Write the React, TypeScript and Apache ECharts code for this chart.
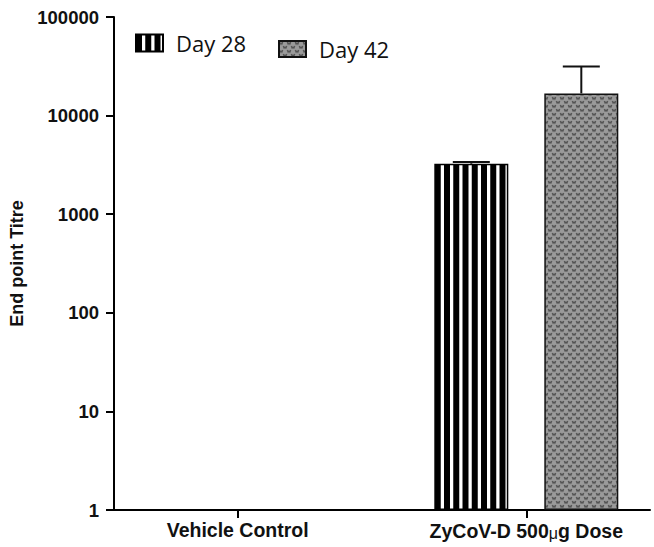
import React, { useEffect, useRef } from "react";
import * as echarts from "echarts";

// ---- data ----
const categories = ["Vehicle Control", "ZyCoV-D 500μg Dose"];
const seriesNames = ["Day 28", "Day 42"];
const day28Mean = [null, 3250];
const day28Upper = [null, 3380];
const day42Mean = [null, 16800];
const day42Upper = [null, 31500];
const yTickLabels = ["1", "10", "100", "1000", "10000", "100000"];

// ---- layout ----
const SLOT_COUNT = 14;
const CATEGORY_SLOTS = [3, 10];
const BAR_W = 74;
const BAR_GAP_PX = 36;

function stripeCanvas(): HTMLCanvasElement {
  const c = document.createElement("canvas");
  c.width = 37;
  c.height = 4;
  const ctx = c.getContext("2d")!;
  ctx.fillStyle = "#ffffff";
  ctx.fillRect(0, 0, 37, 4);
  ctx.fillStyle = "#000000";
  for (let k = 0; k < 4; k++) ctx.fillRect(k * 9.25, 0, 6, 4);
  return c;
}

function textureCanvas(): HTMLCanvasElement {
  const c = document.createElement("canvas");
  c.width = 8;
  c.height = 8;
  const ctx = c.getContext("2d")!;
  ctx.fillStyle = "#9a9a9a";
  ctx.fillRect(0, 0, 8, 8);
  ctx.strokeStyle = "#545454";
  ctx.lineWidth = 1.1;
  const mark = (cx: number, cy: number) => {
    ctx.beginPath();
    ctx.moveTo(cx - 1.8, cy - 1);
    ctx.lineTo(cx - 0.9, cy + 1.2);
    ctx.lineTo(cx, cy - 0.3);
    ctx.lineTo(cx + 0.9, cy + 1.2);
    ctx.lineTo(cx + 1.8, cy - 1);
    ctx.stroke();
  };
  mark(2, 2);
  mark(6, 6);
  mark(-2, 6);
  mark(10, 2);
  return c;
}

export default function App() {
  const ref = useRef<HTMLDivElement>(null);
  useEffect(() => {
    document.body.style.margin = "0";
    if (!ref.current) return;
    const chart = echarts.init(ref.current, undefined, { renderer: "svg" });

    const slots: string[] = [];
    for (let i = 0; i < SLOT_COUNT; i++) {
      const ci = CATEGORY_SLOTS.indexOf(i);
      slots.push(ci >= 0 ? categories[ci] : "gap" + i);
    }
    const toSlots = (arr: (number | null)[]) => {
      const out: any[] = new Array(SLOT_COUNT).fill("-");
      arr.forEach((v, ci) => {
        if (v != null) out[CATEGORY_SLOTS[ci]] = v;
      });
      return out;
    };
    const isCat = (idx: number) => CATEGORY_SLOTS.indexOf(idx) >= 0;

    const errData: any[] = [];
    [
      [day28Mean, day28Upper],
      [day42Mean, day42Upper],
    ].forEach(([m, u], si) => {
      m.forEach((v, ci) => {
        if (v != null && u[ci] != null) errData.push([CATEGORY_SLOTS[ci], v, u[ci], si]);
      });
    });

    const stripe = { image: stripeCanvas(), repeat: "repeat", imageWidth: 37, imageHeight: 4, x: 432 } as any;
    const texture = { image: textureCanvas(), repeat: "repeat", imageWidth: 8, imageHeight: 8 } as any;

    const font = "'Liberation Sans', Arial, sans-serif";
    const legendText = { fontSize: 22, color: "#111", fontFamily: "'Open Sans', sans-serif", padding: [0, 0, 0, 8] };

    chart.setOption({
      animation: false,
      grid: { left: 106, right: 4, top: 17, bottom: 37, containLabel: false },
      legend: [
        {
          data: [seriesNames[0]],
          left: 130,
          top: 27,
          itemWidth: 27,
          itemHeight: 17,
          icon: "rect",
          selectedMode: false,
          textStyle: legendText,
        },
        {
          data: [seriesNames[1]],
          left: 273,
          top: 33,
          itemWidth: 27,
          itemHeight: 16,
          icon: "rect",
          selectedMode: false,
          textStyle: legendText,
        },
      ],
      xAxis: {
        type: "category",
        data: slots,
        boundaryGap: false,
        axisLine: { lineStyle: { color: "#000", width: 2 } },
        axisTick: { interval: (i: number) => isCat(i), length: 8, lineStyle: { width: 2, color: "#000" } },
        axisLabel: {
          interval: (i: number) => isCat(i),
          formatter: (v: string) => (v.startsWith("gap") ? "" : v.replace("μ", "{mu|μ}")),
          fontSize: 19.5,
          fontWeight: "bold",
          fontFamily: font,
          color: "#111",
          margin: 10,
          rich: {
            mu: { fontSize: 16, fontWeight: "normal", fontFamily: font, color: "#111", padding: [5, 0, 0, 0] },
          },
        },
        splitLine: { show: false },
      },
      yAxis: {
        type: "log",
        logBase: 10,
        min: 1,
        max: 100000,
        name: "End point Titre",
        nameLocation: "middle",
        nameGap: 88,
        nameTextStyle: { fontSize: 18, fontWeight: "bold", fontFamily: font, color: "#111" },
        axisLine: { show: true, lineStyle: { color: "#000", width: 2 } },
        axisTick: { show: true, length: 8, lineStyle: { width: 2, color: "#000" } },
        axisLabel: {
          fontSize: 18.5,
          fontWeight: "bold",
          fontFamily: font,
          color: "#111",
          margin: 15,
          formatter: (v: number) => {
            const idx = Math.round(Math.log10(v));
            return yTickLabels[idx] ?? String(Math.round(v));
          },
        },
        splitLine: { show: false },
      },
      series: [
        {
          name: seriesNames[0],
          type: "bar",
          data: toSlots(day28Mean),
          barWidth: BAR_W,
          barGap: (BAR_GAP_PX / BAR_W) * 100 + "%",
          itemStyle: { color: stripe, borderColor: "#000", borderWidth: 1.5 },
        },
        {
          name: seriesNames[1],
          type: "bar",
          data: toSlots(day42Mean),
          barWidth: BAR_W,
          itemStyle: { color: texture, borderColor: "#111", borderWidth: 1.5 },
        },
        {
          type: "custom",
          name: "err",
          clip: false,
          z: 3,
          data: errData,
          renderItem: (_p: any, api: any) => {
            const slot = api.value(0);
            const si = api.value(3);
            const off = (si === 0 ? -1 : 1) * (BAR_W + BAR_GAP_PX) / 2;
            const top = api.coord([slot, api.value(1)]);
            const up = api.coord([slot, api.value(2)]);
            const x = top[0] + off;
            const half = BAR_W / 4;
            const style = { stroke: "#111", lineWidth: 2 };
            return {
              type: "group",
              children: [
                { type: "line", shape: { x1: x, y1: top[1], x2: x, y2: up[1] }, style },
                { type: "line", shape: { x1: x - half, y1: up[1], x2: x + half, y2: up[1] }, style },
              ],
            };
          },
        },
      ],
    } as any);
    return () => chart.dispose();
  }, []);
  return <div ref={ref} style={{ width: 654, height: 547 }} />;
}
